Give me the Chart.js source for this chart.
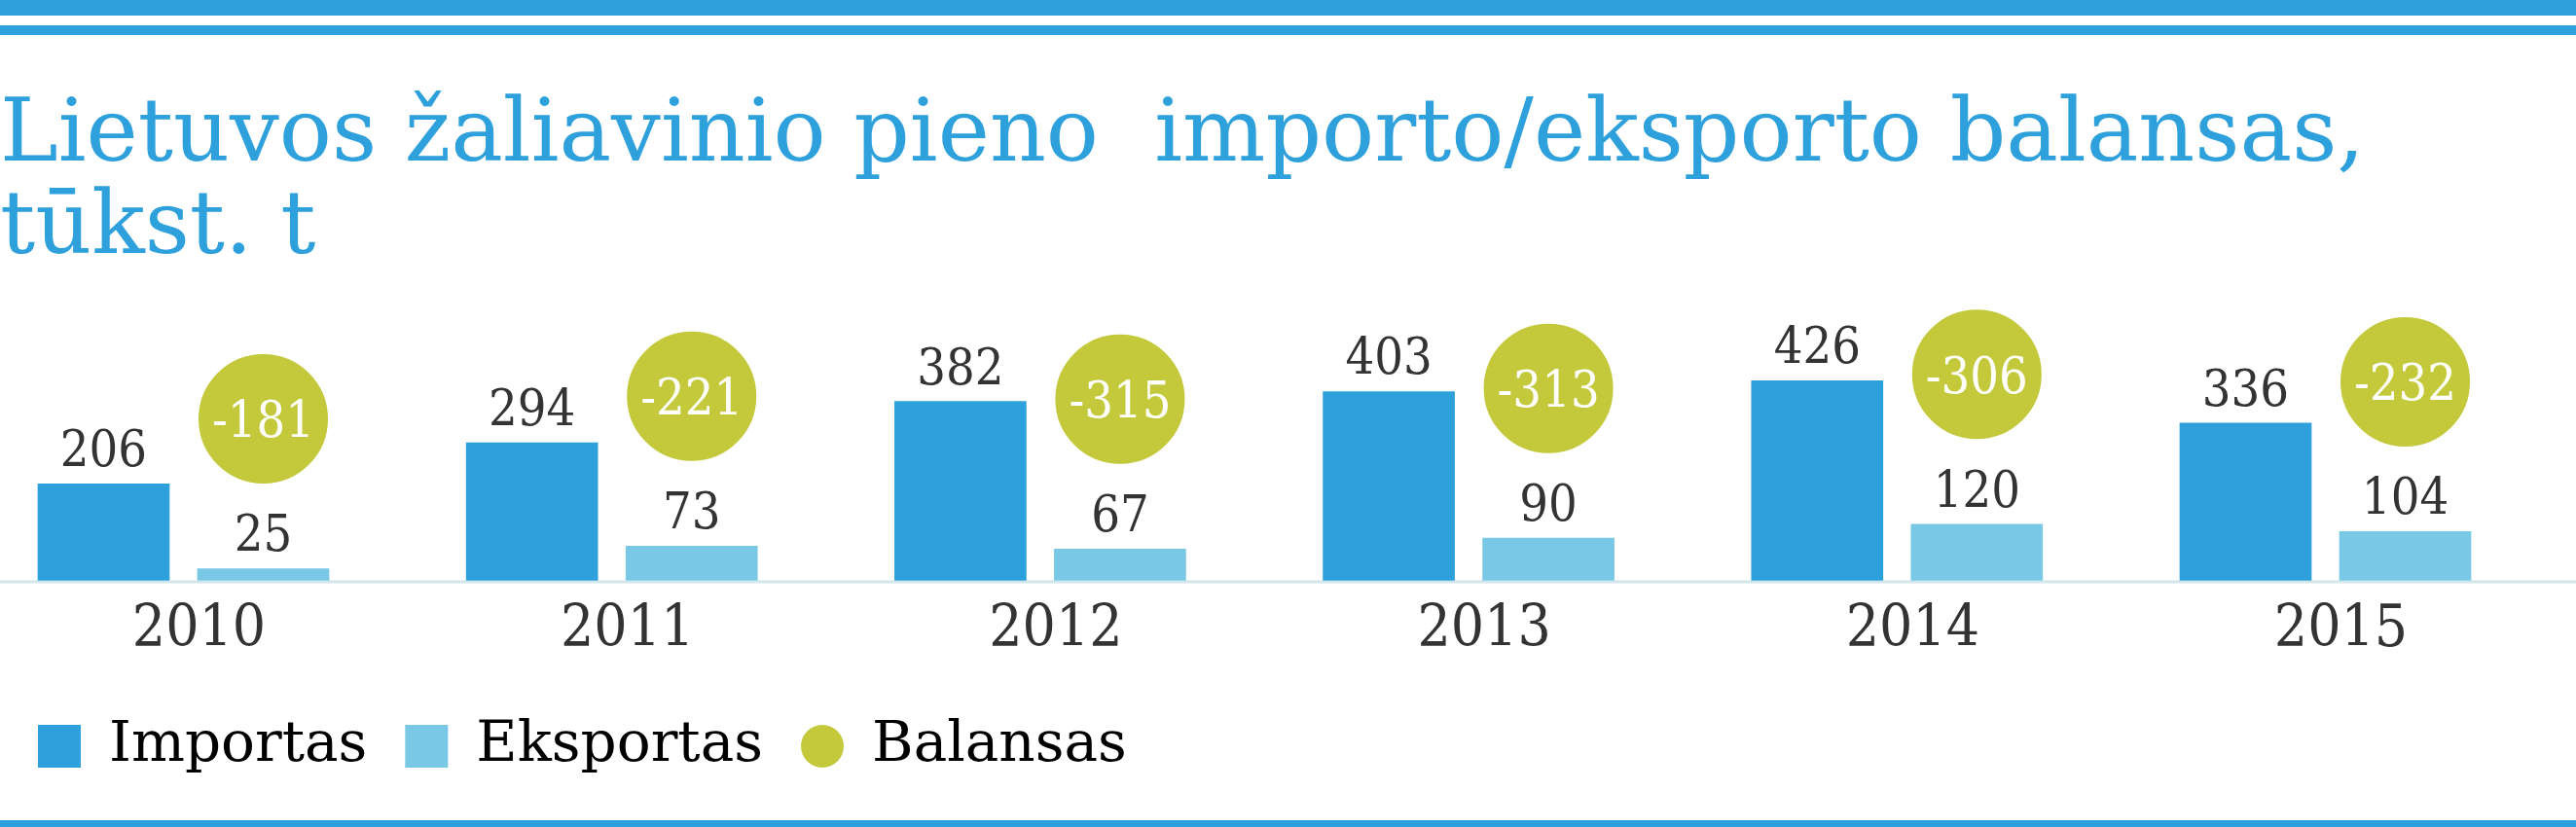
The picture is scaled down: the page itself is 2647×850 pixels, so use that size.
<!DOCTYPE html>
<html>
<head>
<meta charset="utf-8">
<script src="https://cdn.jsdelivr.net/npm/chart.js@4/dist/chart.umd.min.js"></script>
<style>
  html, body { margin: 0; padding: 0; background: #fff; overflow: hidden; }
  #wrap { position: relative; width: 2647px; height: 850px; }
  .band { position: absolute; left: 0; width: 2647px; background: #2ea0dc; }
  canvas { position: absolute; left: 0; top: 0; }
</style>
</head>
<body>
<div id="wrap">
  <canvas id="milkChart" width="2647" height="850"></canvas>
  <div class="band" style="top:0;height:16px"></div>
  <div class="band" style="top:26px;height:10px"></div>
  <div class="band" style="top:843px;height:7px"></div>
</div>
<script>
// data (tūkst. t)
const years = ['2010', '2011', '2012', '2013', '2014', '2015'];
const imports = [206, 294, 382, 403, 426, 336];
const exports = [25, 73, 67, 90, 120, 104];
const balance = [-181, -221, -315, -313, -306, -232];

const titleLines = ['Lietuvos žaliavinio pieno  importo/eksporto balansas,', 'tūkst. t'];
const seriesNames = ['Importas', 'Eksportas', 'Balansas'];
const colors = ['#2ea0dc', '#79c8e5', '#c3c93b'];

const SERIF = '"DejaVu Serif", serif';
const NARROW = '"DejaVu Serif Condensed", "DejaVu Serif", serif';
const TEXT = '#333333';

// value labels over the bars + white numbers in the green circles
const valueLabels = {
  id: 'valueLabels',
  afterDatasetsDraw(chart) {
    const ctx = chart.ctx;
    ctx.save();
    ctx.textAlign = 'center';
    ctx.textBaseline = 'alphabetic';
    ctx.font = '52px ' + NARROW;
    [imports, exports].forEach((vals, di) => {
      chart.getDatasetMeta(di).data.forEach((bar, i) => {
        ctx.fillStyle = TEXT;
        ctx.fillText(String(vals[i]), bar.x, bar.y - 18);
      });
    });
    chart.getDatasetMeta(2).data.forEach((pt, i) => {
      ctx.fillStyle = '#ffffff';
      ctx.fillText(String(balance[i]), pt.x, pt.y + 19);
    });
    ctx.restore();
  }
};

// thin base line running across the whole width
const baseLine = {
  id: 'baseLine',
  beforeDatasetsDraw(chart) {
    const ctx = chart.ctx;
    const y = chart.chartArea.bottom + 1.5;
    ctx.save();
    ctx.strokeStyle = '#d2e6eb';
    ctx.lineWidth = 3;
    ctx.beginPath();
    ctx.moveTo(0, y);
    ctx.lineTo(chart.width, y);
    ctx.stroke();
    ctx.restore();
  }
};

// invisible axes that still take part in the layout
const blankY = (w, pos) => ({
  position: pos,
  display: true,
  ticks: { display: false },
  grid: { display: false, drawTicks: false },
  border: { display: false },
  afterFit(scale) { scale.width = w; }
});
// hidden linear x axes, shifted so each series sits left/right of the year
// (range forced after the ticks are built, so no point counts as out of bounds)
const blankX = (min, max) => ({
  type: 'linear',
  position: 'bottom',
  display: true,
  offset: false,
  bounds: 'data',
  ticks: { display: false },
  grid: { display: false, drawTicks: false, offset: false },
  border: { display: false },
  afterBuildTicks(scale) {
    scale.ticks = years.map((y, i) => ({ value: i }));
    scale.min = min;
    scale.max = max;
  },
  afterFit(scale) { scale.height = 0; }
});

const barBase = {
  grouped: false,
  barPercentage: 1,
  categoryPercentage: 1,
  maxBarThickness: 135,
  clip: false,
  order: 2
};

new Chart(document.getElementById('milkChart'), {
  type: 'bar',
  data: {
    labels: years,
    datasets: [
      Object.assign({
        label: seriesNames[0],
        data: imports.map((v, i) => ({ x: i, y: v })),
        xAxisID: 'xImp',
        yAxisID: 'y',
        backgroundColor: colors[0]
      }, barBase),
      Object.assign({
        label: seriesNames[1],
        data: exports.map((v, i) => ({ x: i, y: v })),
        xAxisID: 'xExp',
        yAxisID: 'y',
        backgroundColor: colors[1]
      }, barBase),
      {
        // circles sit above the export bars (shifted y2 scale).
        // thick same-colour border: 46.5 + 40/2 = 66.5 visible radius, and the
        // larger hit margin keeps the 2015 circle from being culled at the edge
        type: 'line',
        label: seriesNames[2],
        data: exports.map((v, i) => ({ x: i, y: v })),
        xAxisID: 'xExp',
        yAxisID: 'y2',
        showLine: false,
        pointRadius: 46.5,
        pointHoverRadius: 46.5,
        pointBorderWidth: 40,
        pointBackgroundColor: colors[2],
        pointBorderColor: colors[2],
        backgroundColor: colors[2],
        borderColor: colors[2],
        clip: false,
        order: 1
      }
    ]
  },
  options: {
    responsive: false,
    animation: false,
    events: [],
    layout: { padding: { top: 0, bottom: 44, left: 0, right: 0 } },
    scales: {
      x: {
        type: 'category',
        position: 'bottom',
        offset: false,
        grid: { display: false, drawTicks: false },
        border: { display: false },
        ticks: {
          color: TEXT,
          font: { family: NARROW, size: 60 },
          labelOffset: 16,
          padding: 16,
          maxRotation: 0,
          autoSkip: false
        },
        afterFit(scale) { scale.height = 102.5; }
      },
      xImp: blankX(0.1863, 5.1863),
      xExp: blankX(-0.1863, 4.8137),
      y: Object.assign(blankY(188.5, 'left'), { min: 0, max: 500 }),
      y2: Object.assign(blankY(257.5, 'right'), { min: -320, max: 180 })
    },
    plugins: {
      title: {
        display: true,
        text: titleLines,
        align: 'start',
        color: '#2ea0dc',
        font: { family: SERIF, size: 90, weight: 'normal', lineHeight: 1.06 },
        padding: { top: 94, bottom: 71 }
      },
      legend: {
        position: 'bottom',
        align: 'start',
        labels: {
          boxWidth: 44,
          boxHeight: 44,
          padding: 39,
          color: TEXT,
          font: { family: SERIF, size: 58 },
          useBorderRadius: true,
          generateLabels() {
            return seriesNames.map((name, i) => ({
              text: name,
              fillStyle: colors[i],
              strokeStyle: colors[i],
              lineWidth: 0,
              borderRadius: i === 2 ? 22 : 0,
              datasetIndex: i,
              hidden: false
            }));
          }
        }
      },
      tooltip: { enabled: false }
    }
  },
  plugins: [baseLine, valueLabels]
});
</script>
</body>
</html>
